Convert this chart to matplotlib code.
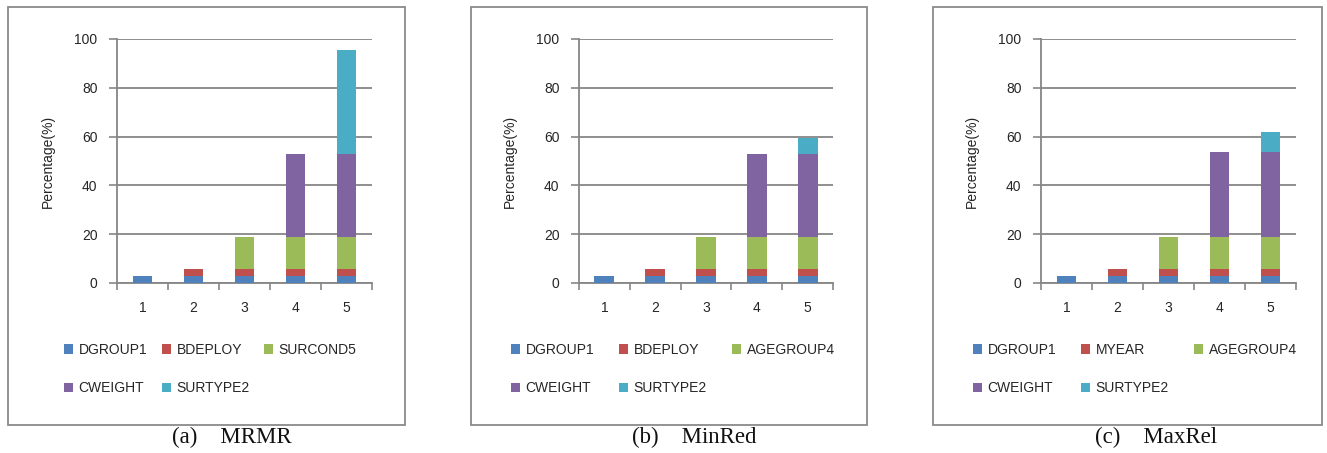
import matplotlib
matplotlib.use("Agg")
import matplotlib.pyplot as plt
from matplotlib.patches import Rectangle, Patch
import numpy as np

plt.rcParams["font.family"] = ["Liberation Sans", "DejaVu Sans"]

W, H = 1327, 453

# ── data ──────────────────────────────────────────────────────────────
steps = [1, 2, 3, 4, 5]
colors = ["#4F81BD", "#C0504D", "#9BBB59", "#8064A2", "#4BACC6"]

mrmr_labels = ["DGROUP1", "BDEPLOY", "SURCOND5", "CWEIGHT", "SURTYPE2"]
mrmr_vals = [
    [2.7, 2.7, 2.7, 2.7, 2.7],
    [0, 3.2, 3.2, 3.2, 3.2],
    [0, 0, 12.9, 12.9, 12.9],
    [0, 0, 0, 33.9, 33.9],
    [0, 0, 0, 0, 42.9],
]

minred_labels = ["DGROUP1", "BDEPLOY", "AGEGROUP4", "CWEIGHT", "SURTYPE2"]
minred_vals = [
    [2.7, 2.7, 2.7, 2.7, 2.7],
    [0, 3.2, 3.2, 3.2, 3.2],
    [0, 0, 12.9, 12.9, 12.9],
    [0, 0, 0, 33.9, 33.9],
    [0, 0, 0, 0, 6.6],
]

maxrel_labels = ["DGROUP1", "MYEAR", "AGEGROUP4", "CWEIGHT", "SURTYPE2"]
maxrel_vals = [
    [2.7, 2.7, 2.7, 2.7, 2.7],
    [0, 3.2, 3.2, 3.2, 3.2],
    [0, 0, 12.9, 12.9, 12.9],
    [0, 0, 0, 34.7, 34.7],
    [0, 0, 0, 0, 8.2],
]

captions = ["(a)    MRMR", "(b)    MinRed", "(c)    MaxRel"]

# ── layout (pixels) ──────────────────────────────────────────────────
panels = [
    dict(box=(8, 405), ax=(117, 372), leg=64, cs=1.05, cap=172,
         labels=mrmr_labels, vals=mrmr_vals),
    dict(box=(471, 867), ax=(579, 833), leg=511, cs=1.8, cap=632,
         labels=minred_labels, vals=minred_vals),
    dict(box=(933, 1322), ax=(1041, 1296), leg=973, cs=1.8, cap=1095,
         labels=maxrel_labels, vals=maxrel_vals),
]

GRID = "#868686"
TXT = "#262626"

fig = plt.figure(figsize=(W / 100, H / 100), dpi=100)

for i, p in enumerate(panels):
    # panel frame
    bx0, bx1 = p["box"]
    fig.patches.append(Rectangle((bx0 / W, 1 - 425 / H), (bx1 - bx0) / W, (425 - 7) / H,
                                 transform=fig.transFigure, fill=False,
                                 ec="#8a8a8a", lw=1.3))

    ax0, ax1 = p["ax"]
    ax = fig.add_axes([ax0 / W, 1 - 283 / H, (ax1 - ax0) / W, (283 - 39) / H])

    bottom = np.zeros(len(steps))
    handles = []
    for lab, v, c in zip(p["labels"], p["vals"], colors):
        v = np.array(v)
        ax.bar(steps, v, width=0.39, bottom=bottom, color=c, zorder=3)
        bottom += v
        handles.append(Patch(facecolor=c, label=lab))

    ax.set_xlim(0.5, 5.5)
    ax.set_ylim(0, 100)
    ax.set_yticks(range(0, 101, 20))
    ax.set_xticks(steps)
    ax.set_xticks(np.arange(0.5, 5.6, 1), minor=True)
    ax.tick_params(axis="x", which="major", length=0, pad=13, labelsize=10, labelcolor=TXT)
    ax.tick_params(axis="x", which="minor", length=5, width=1.2, color=GRID, direction="out")
    ax.tick_params(axis="y", length=6, width=1.2, color=GRID, pad=8, labelsize=10,
                   labelcolor=TXT)
    ax.grid(axis="y", color=GRID, lw=1.3, zorder=0)
    for s in ["top", "right"]:
        ax.spines[s].set_visible(False)
    for s in ["left", "bottom"]:
        ax.spines[s].set_color(GRID)
        ax.spines[s].set_linewidth(1.3)

    ax.set_ylabel("Percentage(%)", fontsize=10, color=TXT)
    ax.yaxis.set_label_coords(-0.245, 0.5)

    # legend fills column-wise; reorder so it reads row-wise like the original
    order = [0, 3, 1, 4, 2]
    ax.legend(handles=[handles[k] for k in order], ncol=3, loc="upper left",
              bbox_to_anchor=(p["leg"] / W, 1 - 343 / H),
              bbox_transform=fig.transFigure, frameon=False, fontsize=10,
              handlelength=0.65, handleheight=0.65, handletextpad=0.4,
              columnspacing=p["cs"], labelspacing=1.75, borderpad=0,
              borderaxespad=0, labelcolor=TXT)

    fig.text(p["cap"] / W, 1 - 437 / H, captions[i], ha="left", va="center",
             fontsize=16.5, family=["Liberation Serif", "DejaVu Serif"], color="#111111")

fig.savefig("out.png", dpi=100)
